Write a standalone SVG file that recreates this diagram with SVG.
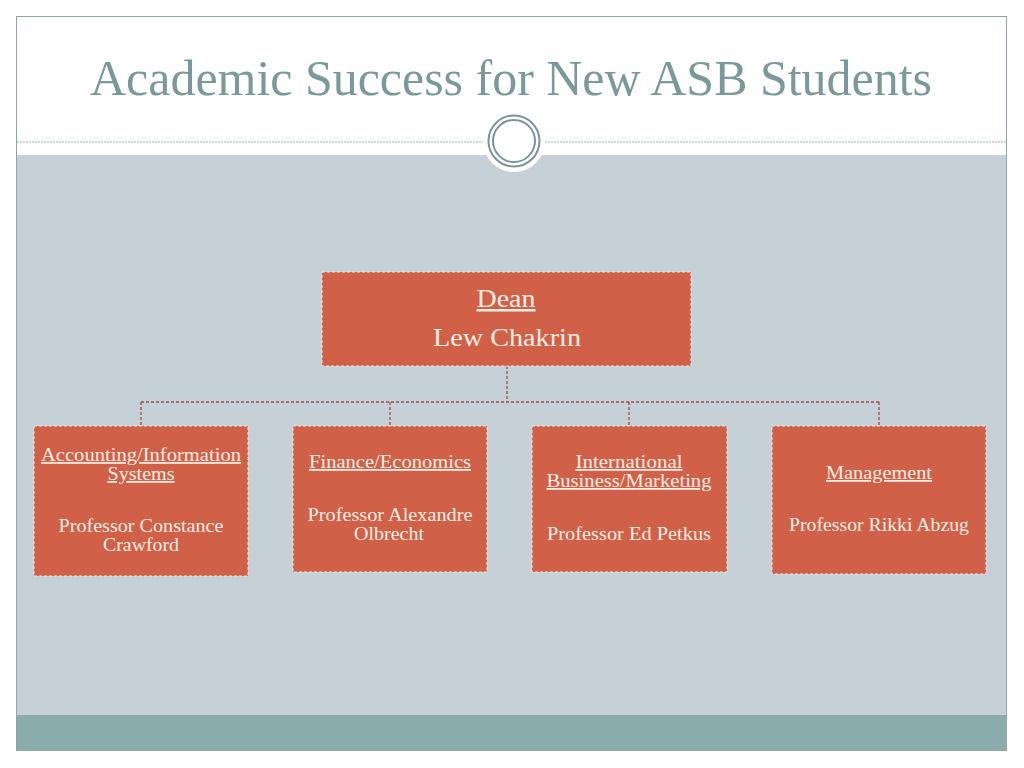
<svg xmlns="http://www.w3.org/2000/svg" width="1024" height="768" viewBox="0 0 1024 768">
<style>
.box{fill:#D06048;stroke:#F4E4DC;stroke-width:1;stroke-dasharray:3 2}
.t{font-family:"Liberation Serif","DejaVu Serif",serif;fill:#FBEDE2;text-anchor:middle}
.s{font-size:18px}
.u{text-decoration:underline}
.conn{fill:none;stroke:#A0484A;stroke-width:1.3;stroke-dasharray:3 2}
</style>
<rect x="0" y="0" width="1024" height="768" fill="#FFFFFF"/>
<rect x="17" y="155" width="989" height="560" fill="#C5D1D7"/>
<rect x="17" y="715" width="989" height="35" fill="#8AACAC"/>
<rect x="16.5" y="16.5" width="990" height="734" fill="none" stroke="#8FA6A8" stroke-width="1"/>
<line x1="17" y1="142" x2="1006" y2="142" stroke="#9AB0B0" stroke-width="1" stroke-dasharray="2 1"/>
<circle cx="514" cy="141" r="31" fill="#FFFFFF"/>
<circle cx="514" cy="141" r="25.5" fill="none" stroke="#7A9596" stroke-width="2"/>
<circle cx="514" cy="141" r="21" fill="none" stroke="#7A9596" stroke-width="2"/>
<text x="511" y="95" font-family="'Liberation Serif','DejaVu Serif',serif" font-size="50" fill="#7A9A9A" text-anchor="middle" textLength="842" lengthAdjust="spacingAndGlyphs">Academic Success for New ASB Students</text>
<g id="connectors">
<path class="conn" d="M507 366V402M141 402H879M141 402V426M390 402V426M629 402V426M879 402V426"/>
</g>
<g id="dean">
<rect class="box" x="322" y="272" width="369" height="94"/>
<text class="t u" x="506" y="307" font-size="25" textLength="59" lengthAdjust="spacingAndGlyphs">Dean</text>
<text class="t" x="507" y="346" font-size="25" textLength="148" lengthAdjust="spacingAndGlyphs">Lew Chakrin</text>
</g>
<g id="accounting">
<rect class="box" x="34" y="426" width="214" height="150"/>
<text class="t s u" x="141" y="461" textLength="200" lengthAdjust="spacingAndGlyphs">Accounting/Information</text>
<text class="t s u" x="141" y="480" textLength="67" lengthAdjust="spacingAndGlyphs">Systems</text>
<text class="t s" x="141" y="532" textLength="165" lengthAdjust="spacingAndGlyphs">Professor Constance</text>
<text class="t s" x="141" y="551" textLength="76" lengthAdjust="spacingAndGlyphs">Crawford</text>
</g>
<g id="finance">
<rect class="box" x="293" y="426" width="194" height="146"/>
<text class="t s u" x="390" y="468" textLength="162" lengthAdjust="spacingAndGlyphs">Finance/Economics</text>
<text class="t s" x="390" y="521" textLength="165" lengthAdjust="spacingAndGlyphs">Professor Alexandre</text>
<text class="t s" x="389" y="540" textLength="70" lengthAdjust="spacingAndGlyphs">Olbrecht</text>
</g>
<g id="intl">
<rect class="box" x="532" y="426" width="195" height="146"/>
<text class="t s u" x="629" y="468" textLength="107" lengthAdjust="spacingAndGlyphs">International</text>
<text class="t s u" x="629" y="487" textLength="165" lengthAdjust="spacingAndGlyphs">Business/Marketing</text>
<text class="t s" x="629" y="540" textLength="164" lengthAdjust="spacingAndGlyphs">Professor Ed Petkus</text>
</g>
<g id="management">
<rect class="box" x="772" y="426" width="214" height="148"/>
<text class="t s u" x="879" y="479" textLength="106" lengthAdjust="spacingAndGlyphs">Management</text>
<text class="t s" x="879" y="531" textLength="180" lengthAdjust="spacingAndGlyphs">Professor Rikki Abzug</text>
</g>
</svg>
